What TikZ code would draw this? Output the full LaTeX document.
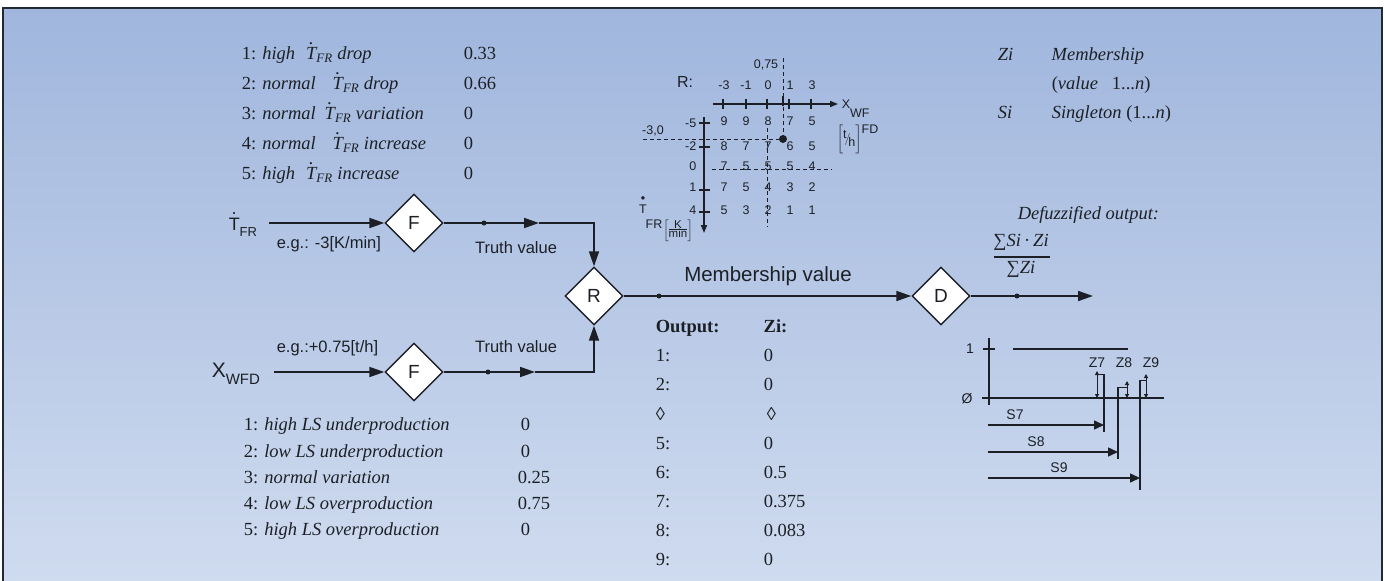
\documentclass[tikz,border=0pt]{standalone}
\usepackage{amsmath}
\usepackage{fontspec}
\setmainfont{Liberation Serif}
\setsansfont{Liberation Sans}
\usetikzlibrary{shapes.geometric,arrows.meta}

\definecolor{bgtop}{RGB}{160,182,221}
\definecolor{bgbot}{RGB}{207,219,239}
\definecolor{ink}{RGB}{28,32,38}
\definecolor{rim}{RGB}{32,42,52}

\newcommand{\fsz}[1]{\fontsize{#1}{#1}\selectfont}
% T with a dot on top
\newcommand{\dotT}[1][.]{\ooalign{T\cr\hidewidth\raisebox{.85em}{#1}\hidewidth\cr}}
\newcommand{\gridrow}[5]{\makebox[22pt]{#1}\makebox[22pt]{#2}\makebox[22pt]{#3}\makebox[22pt]{#4}\makebox[22pt]{#5}}

\begin{document}
\begin{tikzpicture}[x=1pt, y=-1pt, color=ink, line width=1.5pt,
  every node/.style={inner sep=0pt},
  block/.style={diamond, draw, fill=white, aspect=1, minimum size=58pt,
    line width=1.4pt, font=\sffamily\fsz{19}},
  lbl/.style={anchor=base, font=\sffamily\fsz{16.5}},
  txt/.style={anchor=base west, font=\fsz{18.5}},
  cell/.style={font=\sffamily\fsz{12.5}},
  plab/.style={font=\sffamily\fsz{14}},
  flow/.style={->, >={Triangle[length=15pt,width=10pt]}, line width=1.8pt},
  grax/.style={->, >={Triangle[length=8pt,width=6pt]}},
  guide/.style={line width=1pt, dash pattern=on 4pt off 3pt},
  sarr/.style={->, >={Triangle[length=10pt,width=9pt]}},
  zarr/.style={<->, >={Triangle[length=4pt,width=4pt]}, line width=1pt},
  tapdot/.style={circle, fill, minimum size=5pt}
]
\useasboundingbox (0,0) rectangle (1385,581);
\shade[top color=bgtop, bottom color=bgbot] (3,8) rectangle (1382,581);
\draw[draw=rim, line width=2pt] (3,581) |- (1382,8) -- (1382,581);

% legends
\node[anchor=north west, font=\fontsize{18.5}{30}\selectfont] (trend) at (241,38) {%
\begin{tabular}{@{}p{222pt}@{}l@{}}
1: \textit{high}\hspace{11pt}\textit{\dotT\textsubscript{FR} drop} & 0.33\\
2: \textit{normal}\hspace{17pt}\textit{\dotT\textsubscript{FR} drop} & 0.66\\
3: \textit{normal}\hspace{9pt}\textit{\dotT\textsubscript{FR} variation} & 0\\
4: \textit{normal}\hspace{17pt}\textit{\dotT\textsubscript{FR} increase} & 0\\
5: \textit{high}\hspace{11pt}\textit{\dotT\textsubscript{FR} increase} & 0
\end{tabular}};
\node[anchor=north west, font=\fontsize{18.5}{26.3}\selectfont] (level) at (243,411.6) {%
\begin{tabular}{@{}p{274pt}@{}l@{}}
1: \textit{high LS underproduction} & \,0\\
2: \textit{low LS underproduction} & \,0\\
3: \textit{normal variation} & 0.25\\
4: \textit{low LS overproduction} & 0.75\\
5: \textit{high LS overproduction} & \,0
\end{tabular}};
\node[anchor=north west, font=\fontsize{18.5}{29.1}\selectfont] (outtab) at (655,311.6) {%
\begin{tabular}{@{}p{108pt}@{}l@{}}
\textbf{Output:} & \textbf{Zi:}\\
1: & 0\\
2: & 0\\
◊ & \,◊\\
5: & 0\\
6: & 0.5\\
7: & 0.375\\
8: & 0.083\\
9: & 0
\end{tabular}};
\node[anchor=north west, font=\fontsize{18.5}{29}\selectfont] (keys) at (997,39.7) {%
\begin{tabular}{@{}p{54pt}@{}l@{}}
\textit{Zi} & \textit{Membership}\\
 & (\textit{value}\hspace{14pt}1...\textit{n})\\
\textit{Si} & \textit{Singleton} (1...\textit{n})
\end{tabular}};

% main flow
\node[block] (fT) at (414,223) {F};
\node[block] (fX) at (414,372) {F};
\node[block] (rule) at (594,296) {R};
\node[block] (defuzz) at (941,296) {D};
\node[anchor=base west, font=\sffamily\fsz{18}] (tin) at (228,230) {\dotT\raisebox{-6pt}{\fsz{13}FR}};
\node[anchor=base west, font=\sffamily\fsz{21}] (xin) at (211,377) {X\raisebox{-7pt}{\fsz{15}WFD}};
\coordinate (tin0) at (269,223);
\coordinate (xin0) at (274,372);
\coordinate (ta) at (539,223);
\coordinate (xa) at (535,372);
\coordinate (dout) at (1093,296);
\draw[flow] (tin0) -- (fT);
\draw[flow] (xin0) -- (fX);
\draw[flow] (fT) -- (ta);
\draw[flow] (ta) -| (rule.north);
\draw[flow] (fX) -- (xa);
\draw[flow] (xa) -| (rule.south);
\draw[flow] (rule) -- (defuzz);
\draw[flow] (defuzz) -- (dout);
\node[tapdot] (tp) at (484,223) {};
\node[tapdot] (xp) at (488,372) {};
\node[tapdot] (mp) at (659,296) {};
\node[tapdot] (op) at (1017,296) {};
\node[lbl, anchor=base west] (egT) at (276,248) {e.g.: -3[K/min]};
\node[lbl] (tvT) at (516,253) {Truth value};
\node[lbl, anchor=base west] (egX) at (276,352) {e.g.:+0.75[t/h]};
\node[lbl] (tvX) at (516,352) {Truth value};
\node[lbl, font=\sffamily\fsz{20.5}] (mval) at (768,281) {Membership value};
\node[txt] (dzlab) at (1017,219) {\textit{Defuzzified output:}};
\node[anchor=base, font=\fsz{18.5}] (num) at (1021,246) {∑\textit{Si}\,·\,\textit{Zi}};
\node[anchor=base, font=\fsz{18.5}] (den) at (1021,273) {∑\textit{Zi}};
\draw[line width=1.1pt] (994,257) -- (1050,257);

% rule table
\node[font=\sffamily\fsz{16}] (rlab) at (685,82) {R:};
\node[cell] (colhd) at (768,85) {\gridrow{-3}{-1}{0}{1}{3}};
\node[cell] (c075) at (766,65) {0,75};
\node[cell] (m30) at (653,131) {-3,0};
\coordinate (hit) at (783,139);
\draw[guide] (643,139) -- (hit);
\draw[guide] (783,58) -- (hit);
\draw[guide] (767,128) -- (767,227);
\draw[guide] (712,169) -- (832,169);
\draw[grax] (713,104) -- (838,104);
\draw[grax] (704,117) -- (704,233);
\draw (723,99) -- (723,109) (746,99) -- (746,109) (767,99) -- (767,109)
      (789,99) -- (789,109) (811,99) -- (811,109);
\draw[line width=2.5pt] (783,96) -- (783,106);
\draw (699,123) -- (710,123) (699,147) -- (710,147) (699,190) -- (710,190)
      (699,212) -- (710,212);
\node[tapdot, minimum size=8pt] (hitdot) at (hit) {};
\node[cell, anchor=east] (rm5) at (697,123) {-5};
\node[cell, anchor=east] (rm2) at (697,146) {-2};
\node[cell, anchor=east] (r0) at (697,166) {0};
\node[cell, anchor=east] (r1) at (697,187) {1};
\node[cell, anchor=east] (r4) at (697,210) {4};
\node[cell] (g1) at (768,121) {\gridrow{9}{9}{8}{7}{5}};
\node[cell] (g2) at (768,146) {\gridrow{8}{7}{7}{6}{5}};
\node[cell] (g3) at (768,166) {\gridrow{7}{5}{5}{5}{4}};
\node[cell] (g4) at (768,187) {\gridrow{7}{5}{4}{3}{2}};
\node[cell] (g5) at (768,210) {\gridrow{5}{3}{2}{1}{1}};
\node[cell, anchor=base west] (xwf) at (841,108) {X\raisebox{-9pt}{WF}};
\node[cell, anchor=west] (unit) at (836,139) {$\left[\vphantom{\rule[-10pt]{0pt}{22pt}}\raisebox{4pt}{\textsf{t}}\!/\!\raisebox{-4pt}{\textsf{h}}\right]$\raisebox{9pt}{FD}};
\node[cell] (tgrid) at (643,209) {\dotT[•]};
\node[cell] (tgfr) at (654,224) {FR};
\node[cell, font=\sffamily\fsz{11.5}] (kmin) at (678,231) {$\left[\vcenter{\hbox{\begin{tabular}{@{}c@{}}K\\[-3pt]\hline min\end{tabular}}}\right]$};

% singletons
\draw (989,338) -- (989,405);
\draw (983,349) -- (995,349);
\draw (1013,349) -- (1128,349);
\draw (982,398) -- (1164,398);
\node[plab] (one) at (970,349) {1};
\node[plab] (zero) at (967,399) {Ø};
\draw[zarr] (1097,398) -- (1097,371);
\draw[line width=1pt] (1097,374) -- (1104,374);
\draw[line width=2.6pt] (1104,374) -- (1104,398);
\draw (1104,398) -- (1104,432);
\draw[sarr] (988,425) -- (1104,425);
\draw[zarr] (1127,398) -- (1127,381);
\draw[line width=1pt] (1118,387) -- (1127,387);
\draw[line width=2.6pt] (1118,387) -- (1118,398);
\draw (1118,398) -- (1118,459);
\draw[sarr] (988,452) -- (1118,452);
\draw[zarr] (1146,398) -- (1146,374);
\draw[line width=1pt] (1140,380) -- (1146,380);
\draw[line width=2.6pt] (1140,380) -- (1140,398);
\draw (1140,398) -- (1140,490);
\draw[sarr] (988,478) -- (1140,478);
\node[plab] (z7) at (1097,363) {Z7};
\node[plab] (z8) at (1124,363) {Z8};
\node[plab] (z9) at (1151,363) {Z9};
\node[plab] (s7) at (1015,415) {S7};
\node[plab] (s8) at (1036,442) {S8};
\node[plab] (s9) at (1059,468) {S9};
\end{tikzpicture}
\end{document}
